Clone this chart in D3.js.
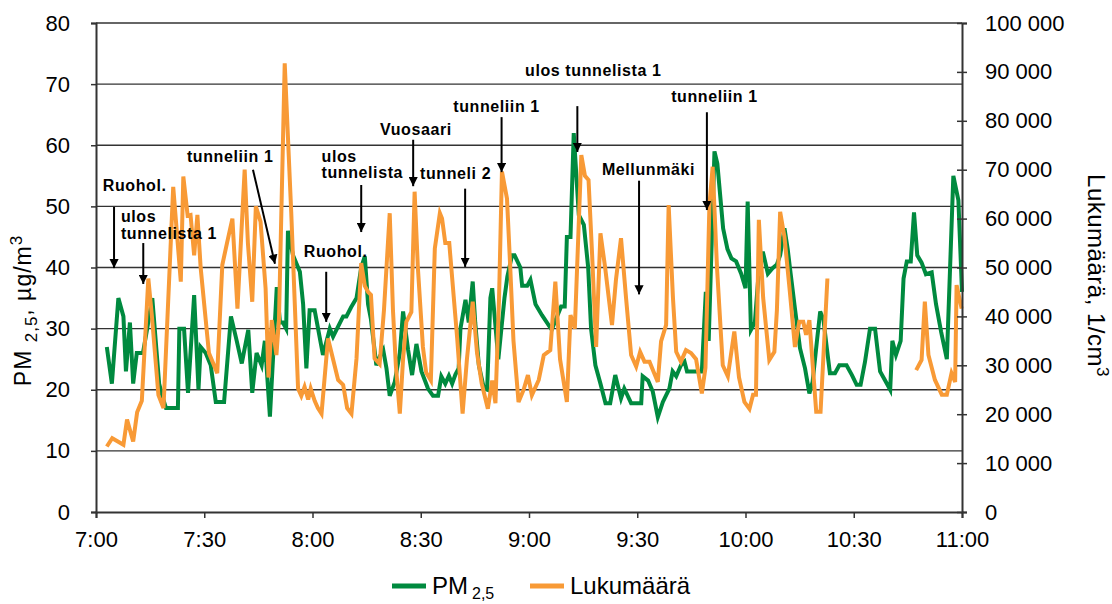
<!DOCTYPE html>
<html>
<head>
<meta charset="utf-8">
<script src="https://cdn.jsdelivr.net/npm/d3@7"></script>
<style>
  body { margin: 0; background: #fff; }
  svg { display: block; }
  text { font-family: "Liberation Sans", Arial, sans-serif; fill: #000; }
</style>
</head>
<body>
<div id="chart"></div>
<script>
const WIDTH = 1112, HEIGHT = 604
const MARGIN = { top: 23, right: 150, bottom: 92, left: 96 }

// minutes after 7:00 -> PM2,5 (µg/m3)
const pmSeries = [
  [3.0,27],[4.4,21],[6.2,35],[7.6,32],[8.3,23],[9.4,31],[10.3,21],[11.3,26],[12.2,26],[13.0,26],
  [13.9,29],[15.6,35],[17.5,21],[18.6,18.5],[19.4,17],[22.7,17],[23.1,30],[24.4,30],[25.5,19.5],[27.2,35.5],
  [28.4,20],[29.0,27],[30.4,26],[31.8,24],[33.2,18],[35.5,18],[37.4,32],[39.0,28],[40.4,24.3],[42.2,29.8],
  [43.3,19.5],[44.5,26],[45.9,24],[46.8,28],[48.2,15.6],[50.1,36.8],[51.0,31],[51.8,31],[52.7,30],[53.2,46],
  [54.6,42],[56.5,39.3],[57.4,34],[58.3,23.5],[59.2,33],[60.6,33],[62.9,25.7],[64.8,30],[65.7,28.7],[66.8,30],
  [68.5,32],[69.4,32],[70.7,33.5],[72.2,35],[73.5,40],[74.5,41.8],[75.4,34],[76.2,31.5],[77.7,24],[78.7,25.5],
  [79.6,26.5],[80.5,23.5],[81.4,19],[82.8,21.3],[84.2,26],[85.1,32.8],[86.5,26.5],[87.6,22.4],[88.8,27.5],[90.2,23],
  [92.0,20.2],[93.4,19],[94.8,19],[95.7,22.2],[96.8,21],[97.8,22.3],[98.7,21],[99.6,22.5],[100.5,23.5],[101.0,30],
  [102.4,34.7],[103.3,31],[104.4,37.7],[105.1,31],[106.1,24],[107.5,20.2],[108.4,20],[109.3,35],[109.8,36.6],[111.5,25],
  [113.2,35],[114.0,38.5],[115.3,42],[116.0,42],[117.6,40],[118.1,37],[119.5,37],[120.4,38],[121.8,34],[123.6,32.2],
  [126.3,29.8],[128.9,33.6],[129.9,33.6],[130.5,45],[131.5,45],[132.4,62],[133.8,48.6],[135.2,47],[136.4,40],[137.2,30],
  [138.4,24],[139.8,21],[141.2,17.8],[142.5,17.8],[143.9,22.4],[145.5,18.6],[146.4,20.2],[148.3,17.8],[151.1,17.8],[151.5,22.2],
  [153.0,21.5],[154.3,19.7],[155.7,15.5],[157.1,18],[158.9,20.2],[159.8,23],[160.8,22.2],[162.1,24],[163.1,24.6],[163.8,23],
  [165.4,23],[166.9,23],[167.9,23],[169.0,36],[169.8,28],[171.4,59],[172.2,57],[173.8,46.4],[175.0,43],[176.1,41.5],
  [177.4,41],[178.8,39],[180.0,36.6],[180.6,50.8],[181.5,29.8],[182.6,31],[183.5,38],[184.8,42.6],[186.2,39],[187.5,39.9],
  [188.7,40.5],[189.6,42],[190.8,46.4],[191.7,43],[192.3,40],[193.7,33.3],[195.1,26.8],[196.5,23.5],[197.7,19.4],[198.6,21.3],
  [199.8,28],[200.7,32.8],[201.6,31.5],[202.5,27],[203.4,22.7],[204.8,22.7],[206.0,24],[208.0,24],[209.5,22.4],[210.8,20.8],
  [211.9,20.8],[213.1,24.5],[214.5,30],[215.9,30],[217.3,23],[218.7,21.5],[220.1,20],[220.7,28],[221.7,25.7],[223.0,28],
  [223.8,38.2],[224.7,41],[225.8,41],[226.7,49],[227.6,42],[228.8,40.8],[230.0,38.9],[231.6,39.2],[232.8,34],[234.2,29.5],
  [235.8,25],[237.6,55],[239.0,51],[240.0,36]
]

// minutes after 7:00 -> particle count (1/cm3); null = no data
const countSeries = [
  [3.0,13400],[4.5,15100],[7.6,13750],[8.6,18900],[10.3,14400],[11.4,20400],[12.7,22750],[14.5,47750],[15.5,40000],[17.3,23900],
  [18.7,21250],[21.4,66500],[23.5,47100],[24.2,68600],[25.4,60600],[26.2,60750],[27.2,52500],[28.1,60750],[29.0,50000],[31.3,32500],
  [33.6,28400],[35.0,50500],[36.3,55000],[37.8,60000],[39.2,41600],[41.2,70000],[42.1,55000],[43.3,43000],[44.3,62500],[45.6,59400],
  [47.0,45750],[47.8,27500],[48.7,39250],[50.0,32100],[50.7,39250],[52.3,91750],[54.1,61400],[55.1,42400],[56.0,25250],[56.9,23750],
  [57.8,25600],[58.8,23000],[59.5,25250],[60.6,22750],[61.5,21250],[62.5,20100],[64.3,35500],[65.7,31250],[67.1,27000],[68.5,26000],
  [69.6,21250],[70.8,20100],[72.2,31400],[73.5,50900],[74.5,46250],[75.4,45000],[76.2,44400],[77.2,31400],[78.6,30250],[79.8,41250],
  [81.4,61100],[82.3,41250],[83.1,30000],[84.2,20100],[85.1,31250],[86.0,38900],[87.4,40900],[88.3,65500],[89.2,50000],[90.6,33750],
  [91.5,28500],[92.8,26900],[93.9,53900],[95.3,61100],[95.9,60000],[96.8,55000],[97.9,55000],[100.1,35500],[101.6,20100],[102.8,31250],
  [104.4,43000],[105.6,32500],[106.9,26250],[108.6,21100],[109.8,26900],[110.7,22250],[111.7,43750],[112.5,69600],[113.9,64100],[114.8,50000],
  [115.7,35000],[117.1,22500],[118.5,25000],[119.7,28000],[120.8,23900],[122.7,27000],[124.1,32100],[125.9,33100],[127.3,47100],[128.6,31250],
  [130.5,22500],[131.5,40250],[132.7,37500],[134.5,73000],[135.5,68750],[136.5,67900],[137.5,52500],[138.6,33750],[139.8,57000],[141.1,50000],
  [143.0,38250],[144.1,47500],[145.5,56000],[146.9,43750],[148.3,32100],[149.7,29750],[150.8,32750],[152.0,30750],[153.4,30750],[154.5,28750],
  [155.7,26600],[156.6,34900],[158.0,38250],[158.7,62750],[159.9,43750],[160.8,32750],[162.1,30750],[163.5,33100],[164.9,32500],[166.3,31250],
  [167.9,24250],[168.9,29500],[170.0,62750],[170.9,70600],[172.1,50000],[173.7,30000],[175.1,27750],[176.9,36900],[178.2,27500],[179.7,22500],
  [181.1,21100],[182.1,24000],[182.9,24000],[183.7,59750],[184.9,43750],[186.6,31100],[188.0,32750],[188.7,41250],[189.6,61400],[190.8,56250],
  [192.3,45000],[193.7,33750],[194.9,38900],[196.0,38900],[196.8,36250],[197.7,39250],[199.6,20500],[200.8,20500],[202.7,47750],[215.0,null],
  [227.3,29000],[228.8,31100],[229.7,43000],[230.7,32100],[232.5,27000],[234.4,24000],[235.8,24000],[237.1,28400],[238.1,26600],[238.5,46400],
  [239.9,41600]
]

const xTicks = [0, 30, 60, 90, 120, 150, 180, 210, 240]
const xTickLabels = ['7:00', '7:30', '8:00', '8:30', '9:00', '9:30', '10:00', '10:30', '11:00']
const leftTicks = [0, 10, 20, 30, 40, 50, 60, 70, 80]
const rightTicks = [0, 10000, 20000, 30000, 40000, 50000, 60000, 70000, 80000, 90000, 100000]

// annotations in data units: text anchor (t, pm) and arrow from/to (t, pm)
const notes = [
  { lines: ['Ruohol.'],                at: [1.9, 52.5],   from: [5.0, 49.9],    to: [5.0, 39.9] },
  { lines: ['ulos', 'tunnelista 1'],   at: [6.9, 47.4],   from: [13.1, 44.0],   to: [13.1, 37.3] },
  { lines: ['tunneliin 1'],            at: [25.2, 57.3],  from: [43.5, 56.0],   to: [49.6, 40.6] },
  { lines: ['ulos', 'tunnelista'],     at: [62.5, 57.3],  from: [73.5, 53.5],   to: [73.5, 45.8] },
  { lines: ['Ruohol.'],                at: [57.6, 41.7],  from: [63.8, 39.3],   to: [63.8, 31.1] },
  { lines: ['Vuosaari'],               at: [78.7, 61.7],  from: [87.9, 60.9],   to: [87.9, 53.3] },
  { lines: ['tunneli 2'],              at: [89.8, 54.5],  from: [102.3, 52.9],  to: [102.3, 40.1] },
  { lines: ['tunneliin 1'],            at: [99.0, 65.4],  from: [112.4, 64.6],  to: [112.4, 55.6] },
  { lines: ['ulos tunnelista 1'],      at: [118.9, 71.3], from: [133.4, 66.4],  to: [133.4, 58.9] },
  { lines: ['Mellunmäki'],             at: [140.2, 55.1], from: [150.5, 54.2],  to: [150.5, 35.6] },
  { lines: ['tunneliin 1'],            at: [159.4, 67.1], from: [169.3, 65.4],  to: [169.3, 49.4] }
]

const GREEN = '#008a3f'
const ORANGE = '#f89a36'

const svg = d3.select('#chart').append('svg')
  .attr('width', WIDTH).attr('height', HEIGHT)

const x = d3.scaleLinear().domain([0, 240]).range([MARGIN.left, WIDTH - MARGIN.right])
const yL = d3.scaleLinear().domain([0, 80]).range([HEIGHT - MARGIN.bottom, MARGIN.top])
const yR = d3.scaleLinear().domain([0, 100000]).range([HEIGHT - MARGIN.bottom, MARGIN.top])

svg.append('defs').append('marker')
  .attr('id', 'arrow').attr('viewBox', '0 0 10 10')
  .attr('refX', 10).attr('refY', 5)
  .attr('markerWidth', 4.6).attr('markerHeight', 4.6)
  .attr('markerUnits', 'strokeWidth')
  .attr('orient', 'auto')
  .append('path').attr('d', 'M0,0L10,5L0,10Z').attr('fill', '#000')

// ── grid ─────────────────────────────────────────────────────
svg.append('g').selectAll('line').data(leftTicks.slice(1))
  .enter().append('line')
  .attr('x1', x(0)).attr('x2', x(240))
  .attr('y1', d => yL(d)).attr('y2', d => yL(d))
  .attr('stroke', '#333').attr('stroke-width', 1.3)

// ── lines ────────────────────────────────────────────────────
const pmLine = d3.line().x(d => x(d[0])).y(d => yL(d[1]))
const countLine = d3.line().defined(d => d[1] != null).x(d => x(d[0])).y(d => yR(d[1]))

svg.append('path').datum(pmSeries)
  .attr('d', pmLine).attr('fill', 'none')
  .attr('stroke', GREEN).attr('stroke-width', 4).attr('stroke-linejoin', 'miter')

svg.append('path').datum(countSeries)
  .attr('d', countLine).attr('fill', 'none')
  .attr('stroke', ORANGE).attr('stroke-width', 4).attr('stroke-linejoin', 'miter')

// ── axes ─────────────────────────────────────────────────────
const styleAxis = g => {
  g.select('.domain').attr('stroke', '#333').attr('stroke-width', 2)
  g.selectAll('.tick line').attr('stroke', '#333').attr('stroke-width', 1.5)
  g.selectAll('.tick text').style('font-size', '22px').attr('fill', '#000')
}

svg.append('g')
  .attr('transform', `translate(0,${yL(0)})`)
  .call(d3.axisBottom(x).tickValues(xTicks).tickFormat((d, i) => xTickLabels[i]).tickSizeOuter(0).tickSize(6).tickPadding(13))
  .call(styleAxis)

svg.append('g')
  .attr('transform', `translate(${x(0)},0)`)
  .call(d3.axisLeft(yL).tickValues(leftTicks).tickSizeOuter(0).tickSize(5).tickPadding(21))
  .call(styleAxis)

const fmtCount = d => d3.format(',')(d).replace(/,/g, ' ')
svg.append('g')
  .attr('transform', `translate(${x(240)},0)`)
  .call(d3.axisRight(yR).tickValues(rightTicks).tickFormat(fmtCount).tickSizeOuter(0).tickSize(5).tickPadding(18))
  .call(styleAxis)
  .call(g => g.selectAll('.tick line').attr('x1', -5))

// ── axis titles ──────────────────────────────────────────────
const leftTitle = svg.append('text')
  .attr('transform', `translate(31,${(yL(0) + yL(80)) / 2 + 43}) rotate(-90)`)
  .attr('text-anchor', 'middle').style('font-size', '23px').style('letter-spacing', '1px')
leftTitle.append('tspan').text('PM ')
leftTitle.append('tspan').attr('dy', 6).style('font-size', '17px').text('2,5')
leftTitle.append('tspan').attr('dy', -6).text(', µg/m')
leftTitle.append('tspan').attr('dy', -9).style('font-size', '17px').text('3')

const rightTitle = svg.append('text')
  .attr('transform', `translate(1088,${(yR(0) + yR(100000)) / 2 + 8}) rotate(90)`)
  .attr('text-anchor', 'middle').style('font-size', '24px').style('letter-spacing', '0.5px')
rightTitle.append('tspan').text('Lukumäärä, 1/cm')
rightTitle.append('tspan').attr('dy', -9).style('font-size', '17px').text('3')

// ── annotations ──────────────────────────────────────────────
const gNotes = svg.append('g')
notes.forEach(n => {
  const t = gNotes.append('text')
    .attr('x', x(n.at[0])).attr('y', yL(n.at[1]))
    .style('font-size', '16px').style('font-weight', 'bold').style('letter-spacing', '0.6px')
  n.lines.forEach((line, i) => {
    t.append('tspan').attr('x', x(n.at[0])).attr('dy', i === 0 ? 0 : 16.5).text(line)
  })
  gNotes.append('line')
    .attr('x1', x(n.from[0])).attr('y1', yL(n.from[1]))
    .attr('x2', x(n.to[0])).attr('y2', yL(n.to[1]))
    .attr('stroke', '#000').attr('stroke-width', 2)
    .attr('marker-end', 'url(#arrow)')
})

// ── legend ───────────────────────────────────────────────────
const legend = svg.append('g').attr('transform', 'translate(392,586)')
legend.append('line').attr('x1', 0).attr('x2', 34).attr('stroke', GREEN).attr('stroke-width', 5)
const lt = legend.append('text').attr('x', 40).attr('y', 8).style('font-size', '24px')
lt.append('tspan').text('PM')
lt.append('tspan').attr('dx', 4).attr('dy', 5).style('font-size', '16px').text('2,5')
legend.append('line').attr('x1', 138).attr('x2', 172).attr('stroke', ORANGE).attr('stroke-width', 5)
legend.append('text').attr('x', 178).attr('y', 8).style('font-size', '24px').text('Lukumäärä')
</script>
</body>
</html>
